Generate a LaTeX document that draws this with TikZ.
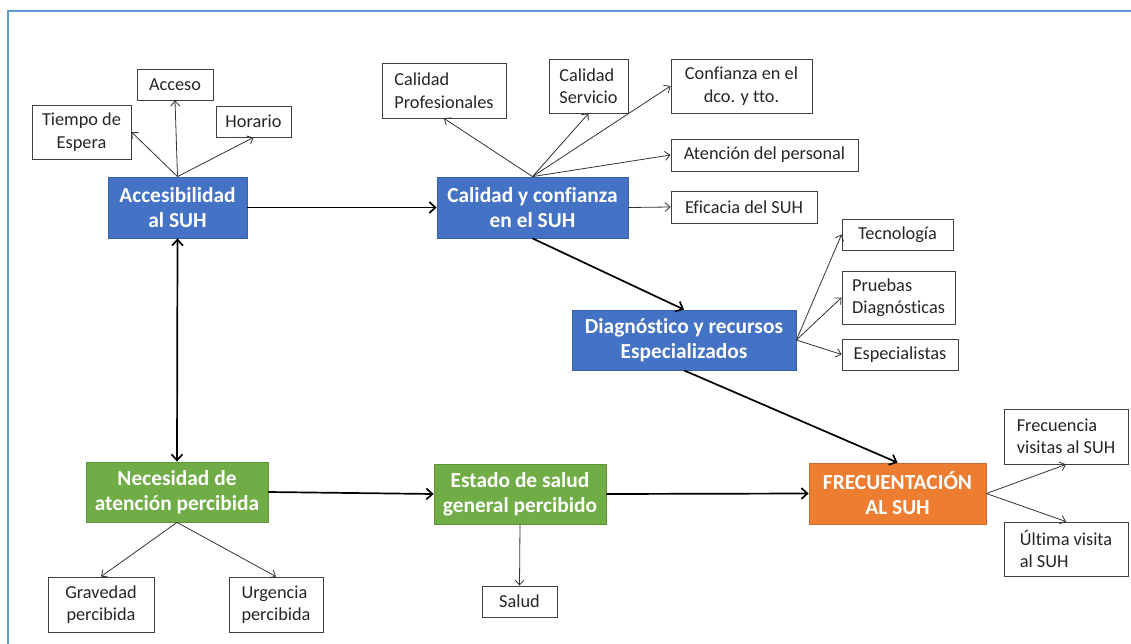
\documentclass[tikz,border=0pt]{standalone}
\usepackage{fontspec}
\setmainfont{Carlito}[Ligatures={NoCommon,NoContextual}]
\usetikzlibrary{arrows.meta}
\definecolor{frameblue}{HTML}{5B9BD5}
\definecolor{keyblue}{HTML}{4472C4}
\definecolor{keygreen}{HTML}{70AD47}
\definecolor{keyorange}{HTML}{ED7D31}
\definecolor{inkgray}{HTML}{262626}
\begin{document}
\begin{tikzpicture}[x=1pt,y=-1pt,
  item/.style={draw=black!75, line width=0.9pt, fill=white, inner sep=0pt,
    font=\fontsize{18.3}{22.5}\selectfont, text=inkgray, align=center},
  key/.style={draw=#1!85!black, fill=#1, line width=0.8pt, inner sep=0pt,
    font=\fontsize{21.4}{25}\selectfont\bfseries, text=white, align=center},
  sub/.style={-{Straight Barb[length=5pt,width=9pt]}, line width=0.8pt, draw=black!80},
  main/.style={-{Straight Barb[length=6pt,width=11pt]}, line width=1.7pt, draw=black}]
\useasboundingbox (0,0) rectangle (1131,644);
\clip (0,0) rectangle (1131,644);
\fill[white] (0,0) rectangle (1131,644);
\draw[frameblue, line width=2.5pt] (8,11) rectangle (1160,680);

% main factors
\node[key=keyblue, minimum width=139, minimum height=61] (acc) at (177.5,207.5) {Accesibilidad\\al SUH};
\node[key=keyblue, minimum width=191, minimum height=61] (cal) at (532.5,207.5) {Calidad y confianza\\en el SUH};
\node[key=keyblue, minimum width=224, minimum height=60] (diag) at (684,340) {Diagnóstico y recursos\\Especializados};
\node[key=keyorange, minimum width=177, minimum height=61] (frec) at (897.5,493.5) {FRECUENTACIÓN\\AL SUH};
\node[key=keygreen, minimum width=182, minimum height=60] (nec) at (177,492) {Necesidad de\\atención percibida};
\node[key=keygreen, minimum width=172, minimum height=60] (est) at (520,494) {Estado de salud\\general percibido};

% indicators
\node[item, minimum width=99, minimum height=54] (tie) at (81.5,132) {Tiempo de\\Espera};
\node[item, minimum width=76, minimum height=31] (acce) at (175,84.5) {Acceso};
\node[item, minimum width=75, minimum height=31] (hor) at (253.5,121.5) {Horario};
\node[item, minimum width=124, minimum height=55, align=left] (cpro) at (444,90.5) {Calidad\\Profesionales};
\node[item, minimum width=79, minimum height=54, align=left] (cser) at (588.5,86) {Calidad\\Servicio};
\node[item, minimum width=141, minimum height=54] (conf) at (741.5,86) {Confianza en el\\dco. y tto.};
\node[item, minimum width=187, minimum height=32] (aten) at (764.5,155) {Atención del personal};
\node[item, minimum width=146, minimum height=32] (efi) at (744,207) {Eficacia del SUH};
\node[item, minimum width=111, minimum height=31] (tec) at (897.5,234.5) {Tecnología};
\node[item, minimum width=113, minimum height=53, align=left] (pru) at (898.5,297.5) {Pruebas\\Diagnósticas};
\node[item, minimum width=116, minimum height=31] (esp) at (900,354.5) {Especialistas};
\node[item, minimum width=124, minimum height=55, align=left] (fvis) at (1066,436.5) {Frecuencia\\visitas al SUH};
\node[item, minimum width=124, minimum height=54, align=left] (ult) at (1066,549) {Última visita\\al SUH};
\node[item, minimum width=106, minimum height=55] (grav) at (101,604.5) {Gravedad\\percibida};
\node[item, minimum width=94, minimum height=55, align=left] (urg) at (276,604.5) {Urgencia\\percibida};
\node[item, minimum width=75, minimum height=31] (sal) at (519.5,601.5) {Salud};

% links between factors
\draw[main] (acc.east) -- (cal.west);
\draw[main] (cal.south) -- (diag.north);
\draw[main] (diag.south) -- (frec.north);
\draw[main] (est.east) -- (frec.west);
\draw[main] (nec.east) -- (est.west);
\draw[main, {Straight Barb[length=6pt,width=11pt]}-{Straight Barb[length=6pt,width=11pt]}] (acc.south) -- (nec.north);

% links to indicators
\draw[sub] (acc.north) -- (tie.east);
\draw[sub] (acc.north) -- (acce.south);
\draw[sub] (acc.north) -- (hor.south);
\draw[sub] (cal.north) -- (cpro.south);
\draw[sub] (cal.north) -- (cser.south);
\draw[sub] (cal.north) -- (conf.west);
\draw[sub] (cal.north) -- (aten.west);
\draw[sub] (cal.east) -- (efi.west);
\draw[sub] (diag.east) -- (tec.west);
\draw[sub] (diag.east) -- (pru.west);
\draw[sub] (diag.east) -- (esp.west);
\draw[sub] (frec.east) -- (fvis.south);
\draw[sub] (frec.east) -- (ult.north);
\draw[sub] (nec.south) -- (grav.north);
\draw[sub] (nec.south) -- (urg.north);
\draw[sub] (est.south) -- (sal.north);
\end{tikzpicture}
\end{document}
